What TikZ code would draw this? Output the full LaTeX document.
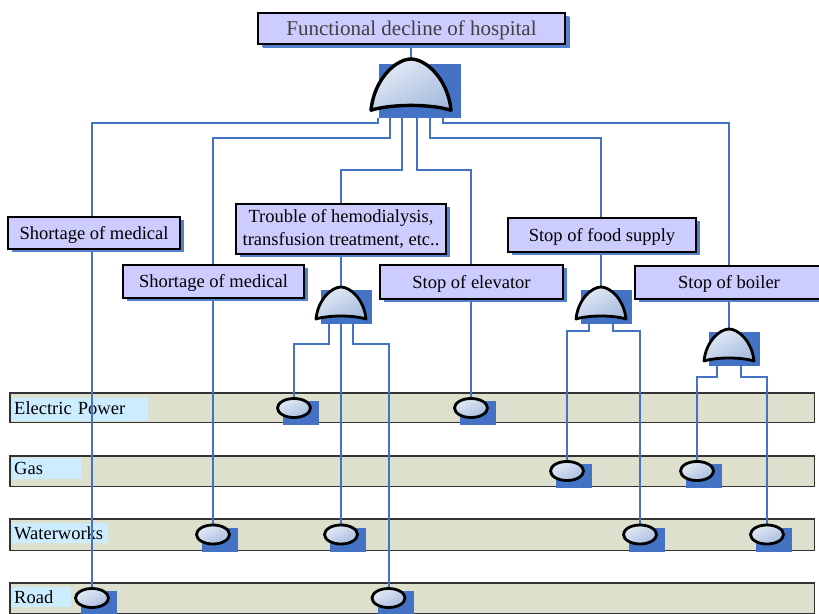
\documentclass[tikz,border=0pt]{standalone}
\usepackage{fontspec}
\setmainfont{Liberation Serif}
\usetikzlibrary{shapes.geometric,shadows,calc}
\pgfdeclarelayer{bars}
\pgfdeclarelayer{wires}
\pgfsetlayers{bars,wires,main}

\definecolor{wire}{RGB}{68,114,196}
\definecolor{shade}{RGB}{84,128,204}
\definecolor{boxfill}{RGB}{204,204,255}
\definecolor{barfill}{RGB}{221,224,204}
\definecolor{tagfill}{RGB}{204,236,255}
\definecolor{evtlight}{RGB}{228,235,246}
\definecolor{evtdark}{RGB}{168,189,222}
\definecolor{titletext}{RGB}{64,64,64}

\tikzset{
  every node/.style={font=\fontsize{18.5}{22.5}\selectfont},
  factbox/.style={draw=black, line width=1.8pt, fill=boxfill, inner sep=0pt, align=center,
    drop shadow={shadow xshift=4pt, shadow yshift=-3pt, opacity=1, fill=shade}},
  oneline/.style={text height=14pt, text depth=2pt},
  wireline/.style={draw=wire, line width=2pt},
  barbox/.style={draw=black!80, line width=1.5pt, fill=barfill, inner sep=0pt, minimum width=804.5pt},
  tag/.style={fill=tagfill, inner xsep=2pt, inner ysep=0pt, align=left, anchor=west},
  evt/.style={ellipse, draw=black, line width=2.8pt, minimum width=33pt, minimum height=19pt,
    inner sep=0pt, top color=evtlight, bottom color=evtdark, shading angle=30},
  gatebody/.style={draw=black, line join=round, top color=evtlight, bottom color=evtdark, shading angle=30}
}

% AND gate: name of apex coordinate, apex position, scale, outline width
\newcommand\andgate[4]{%
  \begin{scope}[shift={#2}, scale=#3]
    \fill[wire] (-20,3) rectangle (31,37);
    \path[gatebody, line width=#4] (-25,32) .. controls (-23,12) and (-9,0) .. (0,0)
      .. controls (9,0) and (23,12) .. (25,32)
      .. controls (12,28) and (-12,28) .. (-25,32) -- cycle;
    \coordinate (#1) at (0,0);
  \end{scope}}

% basic event: name, centre
\newcommand\basicevt[2]{%
  \fill[wire] ($#2+(-11,-7)$) rectangle ++(36,24);
  \node[evt] (#1) at #2 {};}

\begin{document}
\begin{tikzpicture}[x=1pt,y=-1pt]
\useasboundingbox (0,0) rectangle (819,613);

% infrastructure bars
\begin{pgfonlayer}{bars}
  \node[barbox, minimum height=29.5pt] (epbar) at (412,407.5) {};
  \node[barbox, minimum height=30.5pt] (gasbar) at (412,471) {};
  \node[barbox, minimum height=31.5pt] (wwbar) at (412,534.5) {};
  \node[barbox, minimum height=30.5pt] (rdbar) at (412,598) {};
  \node[tag, text width=132pt, minimum height=23pt, text depth=3pt] (eptag) at (12,409.5) {Electric Power};
  \node[tag, text width=65pt, minimum height=21pt] (gastag) at (12,468.5) {Gas};
  \node[tag, text width=92pt, minimum height=20pt] (wwtag) at (12,533) {Waterworks};
  \node[tag, text width=55pt, minimum height=20pt] (rdtag) at (12,597) {Road};
\end{pgfonlayer}

% events
\node[factbox, minimum width=307pt, minimum height=31pt, text=titletext,
  font=\fontsize{21}{25}\selectfont, text height=15.5pt, text depth=2.5pt,
  drop shadow={shadow xshift=5pt, shadow yshift=-4pt, opacity=1, fill=shade}] (title) at (411.5,28.5)
  {Functional decline of hospital};
\node[factbox, oneline, minimum width=172pt, minimum height=32pt] (sm1) at (94,233) {Shortage of medical};
\node[factbox, oneline, minimum width=181pt, minimum height=33pt] (sm2) at (213.5,281.5) {Shortage of medical};
\node[factbox, minimum width=210pt, minimum height=50pt] (trouble) at (341,229)
  {Trouble of hemodialysis,\\transfusion treatment, etc..};
\node[factbox, oneline, minimum width=183pt, minimum height=34pt] (elev) at (471.5,282) {Stop of elevator};
\node[factbox, oneline, minimum width=188pt, minimum height=34pt] (food) at (602,235) {Stop of food supply};
\node[factbox, oneline, minimum width=188pt, minimum height=33pt] (boiler) at (729,282.5) {Stop of boiler};

% gates
\andgate{g0}{(411,59)}{1.6}{3.4pt}
\andgate{g1}{(341,287)}{1}{2.8pt}
\andgate{g2}{(601,287)}{1}{2.8pt}
\andgate{g3}{(729,329)}{1}{2.8pt}

% gate outputs
\coordinate (t1) at (378,118);
\coordinate (t2) at (390,118);
\coordinate (t3) at (402,118);
\coordinate (t4) at (417,118);
\coordinate (t5) at (430,118);
\coordinate (t6) at (443,118);
\coordinate (u1) at (329,324);
\coordinate (u2) at (341,324);
\coordinate (u3) at (353,324);
\coordinate (v1) at (589,324);
\coordinate (v2) at (613,324);
\coordinate (w1) at (717,366);
\coordinate (w2) at (741,366);

% basic events on the bars
\basicevt{ep1}{(294,408)}
\basicevt{ep2}{(471,408)}
\basicevt{gas1}{(567,471)}
\basicevt{gas2}{(697,471)}
\basicevt{ww1}{(213,534.5)}
\basicevt{ww2}{(341,534.5)}
\basicevt{ww3}{(640,534.5)}
\basicevt{ww4}{(767,534.5)}
\basicevt{rd1}{(92,598)}
\basicevt{rd2}{(388.5,598)}

% connectors
\begin{pgfonlayer}{wires}
  \draw[wireline] (title.south -| g0) -- (g0);
  \draw[wireline] (t1) -- ++(0,4.5) -| (rd1.north |- sm1.north);
  \draw[wireline] (t2) -- ++(0,19.5) -| (ww1.north |- sm2.north);
  \draw[wireline] (t3) -- ++(0,52) -| (trouble.north);
  \draw[wireline] (t4) -- ++(0,52) -| (ep2.north |- elev.north);
  \draw[wireline] (t5) -- ++(0,19.5) -| (food.north -| g2);
  \draw[wireline] (t6) -- ++(0,4.5) -| (boiler.north -| g3);
  \draw[wireline] (rd1.north |- sm1.south) -- (rd1.north);
  \draw[wireline] (ww1.north |- sm2.south) -- (ww1.north);
  \draw[wireline] (trouble.south) -- (g1);
  \draw[wireline] (ep2.north |- elev.south) -- (ep2.north);
  \draw[wireline] (food.south -| g2) -- (g2);
  \draw[wireline] (boiler.south -| g3) -- (g3);
  \draw[wireline] (u1) -- ++(0,20) -| (ep1.north);
  \draw[wireline] (u2) -- (ww2.north);
  \draw[wireline] (u3) -- ++(0,20) -| (rd2.north);
  \draw[wireline] (v1) -- ++(0,7) -| (gas1.north);
  \draw[wireline] (v2) -- ++(0,7) -| (ww3.north);
  \draw[wireline] (w1) -- ++(0,11) -| (gas2.north);
  \draw[wireline] (w2) -- ++(0,11) -| (ww4.north);
\end{pgfonlayer}
\end{tikzpicture}
\end{document}
